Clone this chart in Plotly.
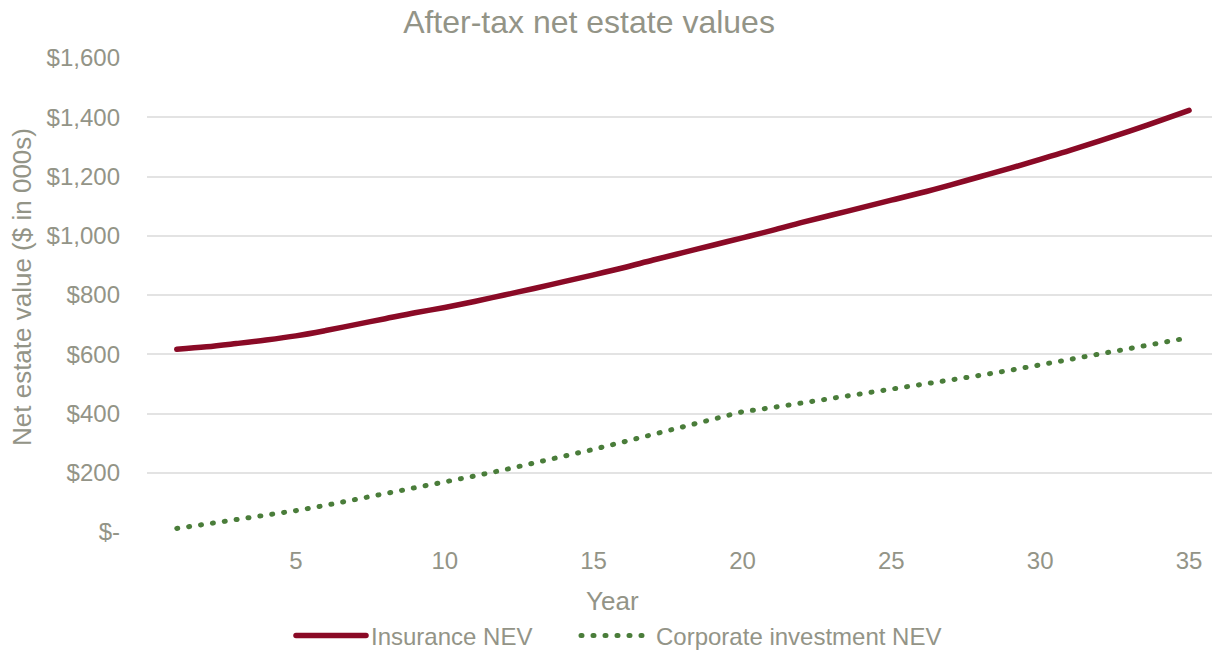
import plotly.graph_objects as go

years = list(range(1, 36))
insurance_nev = [617, 625, 636, 648, 662, 680, 700, 720, 740, 758,
                 778, 800, 822, 845, 868, 892, 918, 943, 968, 993,
                 1018, 1045, 1070, 1095, 1120, 1145, 1172, 1200, 1228, 1258,
                 1288, 1320, 1353, 1388, 1423]
corporate_nev = [12, 26, 40, 54, 72, 90, 109, 128, 148, 168,
                 189, 210, 232, 255, 279, 304, 329, 355, 380, 406,
                 420, 435, 450, 465, 481, 497, 513, 529, 546, 564,
                 582, 600, 618, 637, 656]
x_ticks = [5, 10, 15, 20, 25, 30, 35]
y_ticks = [0, 200, 400, 600, 800, 1000, 1200, 1400, 1600]
y_labels = ["$-", "$200", "$400", "$600", "$800", "$1,000", "$1,200", "$1,400", "$1,600"]

TXT = "#939487"
FONT = "Liberation Sans, Arial, sans-serif"

fig = go.Figure()
fig.add_trace(go.Scatter(x=years, y=insurance_nev, mode="lines", name="Insurance NEV",
                         line=dict(color="#8a0a26", width=5.5, shape="spline"), legend="legend"))
fig.add_trace(go.Scatter(x=years, y=corporate_nev, mode="lines", name="Corporate investment NEV",
                         line=dict(color="#4a7d3a", width=5, dash="1px,11px"), legend="legend2"))

leg_common = dict(orientation="h", xref="container", yref="container", xanchor="left",
                  y=1 - 636 / 650, yanchor="middle", font=dict(size=24, color=TXT), itemwidth=70,
                  bgcolor="rgba(0,0,0,0)")

fig.update_layout(
    width=1212, height=650,
    paper_bgcolor="white", plot_bgcolor="white",
    margin=dict(l=147, r=0, t=58, b=118),
    font=dict(family=FONT, color=TXT, size=24),
    title=dict(text="After-tax net estate values", x=589 / 1212, xref="container", xanchor="center",
               y=1 - 22 / 650, yref="container", yanchor="middle", font=dict(size=32, color=TXT)),
    legend=dict(x=291 / 1212, **leg_common),
    legend2=dict(x=576 / 1212, **leg_common),
    showlegend=True,
    annotations=[
        dict(text="Year", xref="paper", yref="paper", x=(612 - 147) / 1065, y=(532 - 601) / 474,
             xanchor="center", yanchor="middle", showarrow=False, font=dict(size=26, color=TXT)),
        dict(text="Net estate value ($ in 000s)", xref="paper", yref="paper", x=(22 - 147) / 1065,
             y=(532 - 287) / 474, xanchor="center", yanchor="middle", textangle=-90,
             showarrow=False, font=dict(size=26, color=TXT)),
    ],
)
fig.update_xaxes(range=[0, 35.77], tickvals=x_ticks, showgrid=False, zeroline=False,
                 showline=False, ticks="", ticklabelstandoff=12,
                 tickfont=dict(size=24, color=TXT))
fig.update_yaxes(range=[0, 1600], tickvals=y_ticks, ticktext=y_labels, showgrid=True,
                 gridcolor="#e3e3e3", gridwidth=1.5, zeroline=False, showline=False, ticks="",
                 ticklabelstandoff=26,
                 tickfont=dict(size=24, color=TXT))

post = """
document.body.style.margin='0';
document.body.style.overflow='hidden';
function fixCaps(){document.querySelectorAll('path.js-line').forEach(function(p){p.style.strokeLinecap='round';});}
fixCaps();
var gd=document.getElementsByClassName('plotly-graph-div')[0];
if(gd&&gd.on){gd.on('plotly_afterplot',fixCaps);}
"""
fig.write_html("out.html", post_script=post, config={"displayModeBar": False})
